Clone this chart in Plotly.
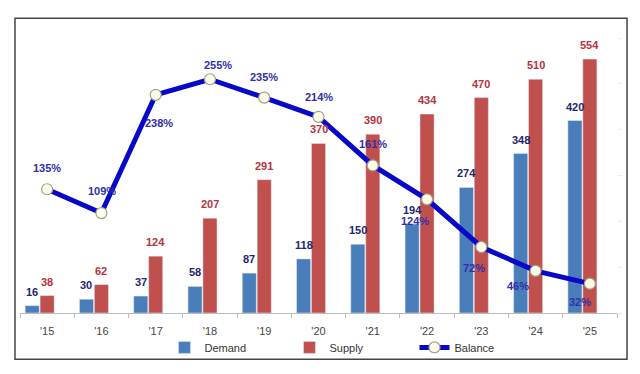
import plotly.graph_objects as go

years = ["'15", "'16", "'17", "'18", "'19", "'20", "'21", "'22", "'23", "'24", "'25"]
demand = [16, 30, 37, 58, 87, 118, 150, 194, 274, 348, 420]
supply = [38, 62, 124, 207, 291, 370, 390, 434, 470, 510, 554]
balance = [135, 109, 238, 255, 235, 214, 161, 124, 72, 46, 32]

# label offsets (px) for the balance labels
bal_dx = [0, 1, 3, 8, 0, 0, 0, -12, -7, -18, -10]
bal_dy = [21, 22, -28, 14, 21, 20, 21, -22, -21, -15, -18]

x = list(range(len(years)))
BLUE = "#4a7ebb"
RED = "#c0504d"
LINE = "#0808c8"
DEM_TXT = "#22266e"
SUP_TXT = "#b8323a"
BAL_TXT = "#3030a8"
W = 0.26

fig = go.Figure()
fig.add_trace(go.Bar(x=x, y=demand, name="Demand", marker_color=BLUE,
                     width=W, offset=-0.405, hoverinfo="skip"))
fig.add_trace(go.Bar(x=x, y=supply, name="Supply", marker_color=RED,
                     width=W, offset=-0.13, hoverinfo="skip"))
fig.add_trace(go.Scatter(x=x, y=balance, name="Balance", yaxis="y2",
                         mode="lines+markers",
                         line=dict(color=LINE, width=5),
                         marker=dict(size=11, color="#fdfde6",
                                     line=dict(color="#a0a090", width=1.2))))

font_lbl = dict(family="Arial, Liberation Sans", size=11)
anns = []
for i in x:
    anns.append(dict(x=i - 0.275, y=demand[i], xref="x", yref="y", text=f"<b>{demand[i]}</b>",
                     showarrow=False, yshift=14, font=dict(color=DEM_TXT, **font_lbl)))
    anns.append(dict(x=i, y=supply[i], xref="x", yref="y", text=f"<b>{supply[i]}</b>",
                     showarrow=False, yshift=14, font=dict(color=SUP_TXT, **font_lbl)))
    anns.append(dict(x=i, y=balance[i], xref="x", yref="y2", text=f"<b>{balance[i]}%</b>",
                     showarrow=False, xshift=bal_dx[i], yshift=bal_dy[i],
                     font=dict(color=BAL_TXT, **font_lbl)))

fig.update_layout(
    width=640, height=374,
    margin=dict(l=20, r=23, t=38, b=57),
    paper_bgcolor="white", plot_bgcolor="white",
    barmode="overlay",
    showlegend=True,
    legend=dict(orientation="h", x=0.242, xanchor="left", y=-0.125, yanchor="middle",
                entrywidth=80, font=dict(family="Arial, Liberation Sans", size=11, color="#333"),
                itemclick=False, bgcolor="rgba(0,0,0,0)", tracegroupgap=0),
    xaxis=dict(range=[-0.5, 10.5], tickvals=x, ticktext=years, showgrid=False,
               showline=True, linecolor="#bbbbbb", linewidth=1, ticks="",
               ticklabelstandoff=8,
               tickfont=dict(family="Arial, Liberation Sans", size=11, color="#444"),
               minor=dict(tickvals=[i - 0.5 for i in range(12)], ticks="outside",
                          ticklen=4, tickcolor="#bbbbbb"),
               zeroline=False),
    yaxis=dict(range=[0, 600], showgrid=False, showticklabels=False, zeroline=False,
               showline=False, ticks=""),
    yaxis2=dict(range=[0, 300], overlaying="y", side="right", showgrid=False,
                showticklabels=False, zeroline=False, showline=False,
                tickvals=[0, 50, 100, 150, 200, 250, 300], ticks="outside", ticklen=3,
                tickcolor="#e4e4e4"),
    annotations=anns,
    shapes=[dict(type="rect", xref="paper", yref="paper",
                 x0=-0.0084, x1=1.0168, y0=-0.1685, y1=1.0717,
                 line=dict(color="#444444", width=1.5), fillcolor="rgba(0,0,0,0)", layer="above")],
)

fig.write_html("out.html", config={"displayModeBar": False},
               post_script="document.body.style.margin='0';")
